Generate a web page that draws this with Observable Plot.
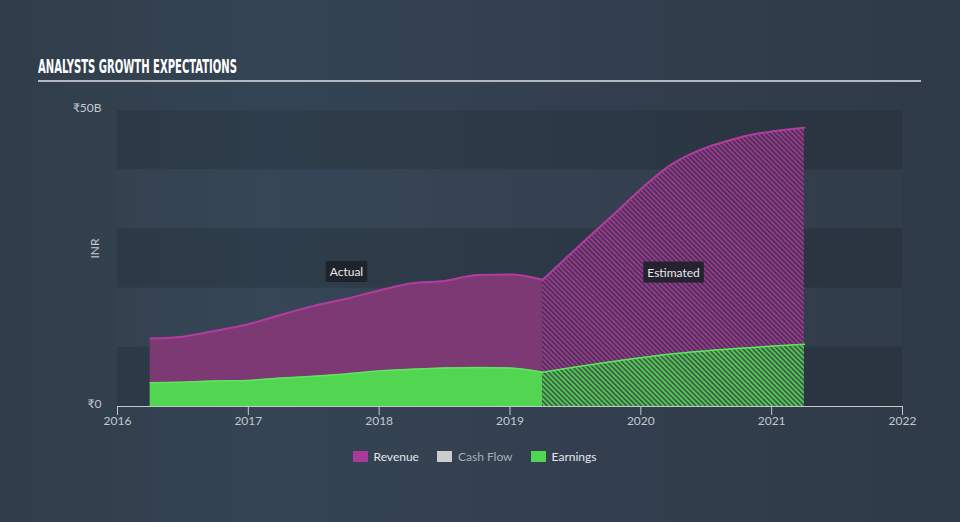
<!DOCTYPE html>
<html>
<head>
<meta charset="utf-8">
<script src="https://cdn.jsdelivr.net/npm/d3@7"></script>
<script src="https://cdn.jsdelivr.net/npm/@observablehq/plot@0.6"></script>
<style>
html,body{margin:0;padding:0;}
body{width:960px;height:522px;overflow:hidden;position:relative;
  background:linear-gradient(90deg,#313d4a 0%,#344454 28%,#333f4e 60%,#2e3a47 100%);
  font-family:Lato,"Open Sans",sans-serif;}
#title{position:absolute;left:38px;top:55px;color:#ffffff;font-weight:bold;font-size:19px;
  font-family:"DejaVu Sans Condensed","DejaVu Sans",sans-serif;font-stretch:condensed;
  white-space:nowrap;transform-origin:0 0;display:inline-block;}
#rule{position:absolute;left:38px;top:80px;width:883px;height:2px;background:#b4b9c1;}
#chart{position:absolute;left:0;top:90px;}
#legend{position:absolute;left:0;top:449px;width:949px;display:flex;justify-content:center;
  align-items:center;font-size:12px;font-family:Lato,"Open Sans",sans-serif;}
.item{display:flex;align-items:center;margin:0 9px;}
.sw{width:15px;height:11px;margin-right:6px;}
</style>
</head>
<body>
<div id="title"><span id="titletext">ANALYSTS GROWTH EXPECTATIONS</span></div>
<div id="rule"></div>
<div id="chart"></div>
<div id="legend"></div>
<script>
// ---- data (values in billions of INR, time in fractional years) ----
const years = [2016, 2017, 2018, 2019, 2020, 2021, 2022];
const yTicks = [0, 50];
const bandEdges = [0, 10, 20, 30, 40, 50];

const revenueActualT = [2016.25, 2016.5, 2016.75, 2017.0, 2017.25, 2017.5, 2017.75, 2018.0, 2018.25, 2018.5, 2018.75, 2019.0, 2019.25];
const revenueActualV = [11.5, 11.8, 12.8, 13.9, 15.5, 17.0, 18.2, 19.6, 20.8, 21.2, 22.2, 22.3, 21.4];
const revenueEstT = [2019.25, 2019.75, 2020.25, 2020.75, 2021.25];
const revenueEstV = [21.4, 31.6, 41.1, 45.4, 47.1];

const earningsActualT = [2016.25, 2016.5, 2016.75, 2017.0, 2017.25, 2017.5, 2017.75, 2018.0, 2018.25, 2018.5, 2018.75, 2019.0, 2019.25];
const earningsActualV = [4.0, 4.1, 4.3, 4.4, 4.8, 5.1, 5.5, 6.0, 6.3, 6.5, 6.6, 6.5, 5.8];
const earningsEstT = [2019.25, 2020.25, 2021.25];
const earningsEstV = [5.8, 8.9, 10.5];

const phaseLabels = ["Actual", "Estimated"];
const phaseX = [2017.75, 2020.25];
const phaseY = [22.7, 22.6];

const legendNames = ["Revenue", "Cash Flow", "Earnings"];
const legendColors = ["#a93a98", "#cccccc", "#52d652"];
const legendText = ["#e4e6ea", "#a9aeb6", "#e4e6ea"];

// ---- build tables ----
const zip = (t, v) => t.map((d, i) => ({t: d, v: v[i]}));
const revA = zip(revenueActualT, revenueActualV);
const revE = zip(revenueEstT, revenueEstV);
const earnA = zip(earningsActualT, earningsActualV);
const earnE = zip(earningsEstT, earningsEstV);
const bands = bandEdges.slice(0, -1).map((lo, i) => ({lo, hi: bandEdges[i + 1], dark: i % 2 === 0}));
const labels = phaseLabels.map((s, i) => ({s, x: phaseX[i], y: phaseY[i]}));

const axisColor = "#c3c8d0";
const curve = "monotone-x";

const chart = Plot.plot({
  width: 960,
  height: 350,
  marginTop: 20,
  marginBottom: 34,
  marginLeft: 117,
  marginRight: 58,
  x: {domain: [years[0], years[years.length - 1]]},
  y: {domain: [yTicks[0], yTicks[yTicks.length - 1]]},
  style: {background: "transparent", color: axisColor, fontFamily: "Lato, 'Open Sans', sans-serif", fontSize: "12px"},
  marks: [
    Plot.rect(bands.filter(d => d.dark), {x1: () => years[0], x2: () => years[years.length - 1], y1: "lo", y2: "hi", fill: "rgba(0,0,0,0.1)"}),
    Plot.rect(bands.filter(d => !d.dark), {x1: () => years[0], x2: () => years[years.length - 1], y1: "lo", y2: "hi", fill: "rgba(255,255,255,0.012)"}),
    Plot.areaY(revA, {x: "t", y: "v", fill: "#7c3974", curve}),
    Plot.areaY(revE, {x: "t", y: "v", fill: "url(#hatchRev)", curve}),
    Plot.areaY(earnA, {x: "t", y: "v", fill: "#52d652", curve}),
    Plot.areaY(earnE, {x: "t", y: "v", fill: "url(#hatchEarn)", curve}),
    Plot.lineY(revA, {x: "t", y: "v", stroke: "#b23c9f", strokeWidth: 2, curve}),
    Plot.lineY(revE, {x: "t", y: "v", stroke: "#b23c9f", strokeWidth: 2, curve}),
    Plot.lineY(earnA, {x: "t", y: "v", stroke: "#5ee65e", strokeWidth: 1.5, curve}),
    Plot.lineY(earnE, {x: "t", y: "v", stroke: "#5ee65e", strokeWidth: 1.5, curve}),
    Plot.ruleY([0], {stroke: axisColor, strokeWidth: 1.2}),
    Plot.axisX(years, {tickSize: 9, tickPadding: 1, tickFormat: d => String(d), stroke: axisColor, fill: axisColor, label: null}),
    Plot.axisY(yTicks, {tickSize: 0, tickPadding: 16, tickFormat: d => d === 0 ? "₹0" : `₹${d}B`, fill: axisColor, label: null, dy: -2}),
    Plot.text(["INR"], {frameAnchor: "left", dx: -22, rotate: -90, text: d => d, fill: axisColor, fontSize: 12}),
    Plot.text(labels, {x: "x", y: "y", text: "s", fill: "#e8e8ea", fontSize: 12})
  ]
});
document.getElementById("chart").appendChild(chart);

// patterns for estimated (hatched) areas
const svg = d3.select(chart);
const defs = svg.insert("defs", ":first-child");
function hatch(id, bg, line) {
  const p = defs.append("pattern").attr("id", id).attr("patternUnits", "userSpaceOnUse")
    .attr("width", 3.5).attr("height", 3.5).attr("patternTransform", "rotate(-45)");
  p.append("rect").attr("width", 3.5).attr("height", 3.5).attr("fill", bg);
  p.append("rect").attr("width", 1.75).attr("height", 3.5).attr("fill", line);
}
hatch("hatchRev", "#4e3159", "#973a8b");
hatch("hatchEarn", "#3d5f49", "#52c852");

// dark boxes behind phase labels
svg.selectAll("text").filter(function() { return phaseLabels.includes(this.textContent); }).each(function() {
  const b = this.getBBox();
  const tr = this.getAttribute("transform");
  const r = document.createElementNS("http://www.w3.org/2000/svg", "rect");
  r.setAttribute("x", b.x - 4);
  r.setAttribute("y", b.y - 3);
  r.setAttribute("width", b.width + 8);
  r.setAttribute("height", b.height + 6);
  r.setAttribute("fill", "#1d2029");
  r.setAttribute("fill-opacity", "0.9");
  if (tr) r.setAttribute("transform", tr);
  this.parentNode.insertBefore(r, this);
});

// legend
const legend = d3.select("#legend");
legendNames.forEach((n, i) => {
  const it = legend.append("div").attr("class", "item");
  it.append("div").attr("class", "sw").style("background", legendColors[i]);
  it.append("span").text(n).style("color", legendText[i]);
});

// fit title width
const tt = document.getElementById("titletext");
const w = tt.getBoundingClientRect().width;
document.getElementById("title").style.transform = `scaleX(${199 / w})`;
</script>
</body>
</html>
